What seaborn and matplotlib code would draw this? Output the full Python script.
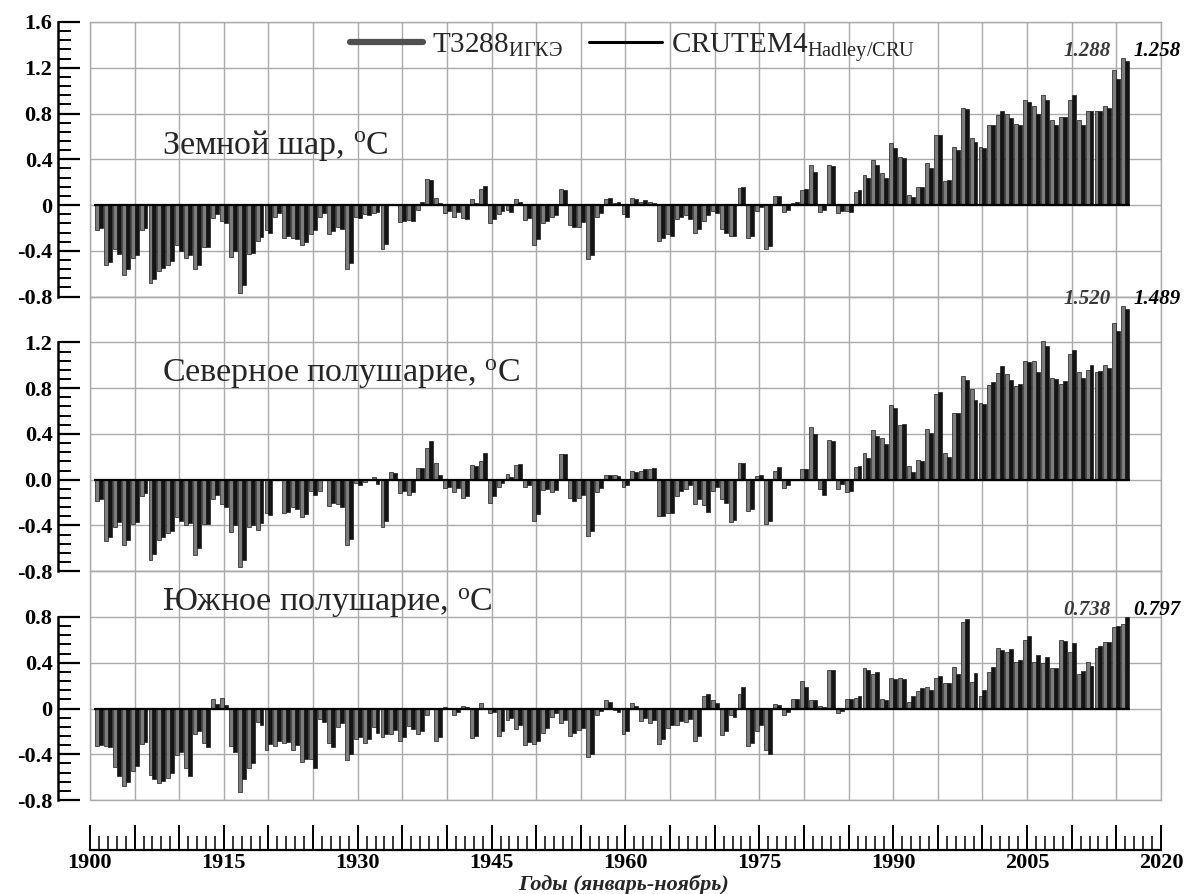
import numpy as np
import pandas as pd
import seaborn as sns
import matplotlib.pyplot as plt
from matplotlib.lines import Line2D
from matplotlib.ticker import MultipleLocator, FixedLocator, FuncFormatter

years = list(range(1901, 2017))

# Земной шар
globe_t3288 = [
    -0.22, -0.52, -0.38, -0.61, -0.46, -0.22, -0.68, -0.58, -0.52, -0.35,
    -0.46, -0.56, -0.37, -0.11, -0.14, -0.45, -0.77, -0.43, -0.31, -0.22,
    -0.10, -0.29, -0.29, -0.35, -0.25, -0.10, -0.25, -0.19, -0.56, -0.10,
    -0.08, -0.07, -0.38, 0.01, -0.15, -0.13, -0.04, 0.23, 0.06, -0.07,
    -0.10, -0.11, 0.05, 0.14, -0.16, -0.08, -0.04, 0.05, -0.13, -0.35,
    -0.16, -0.10, 0.14, -0.17, -0.19, -0.47, -0.10, 0.05, 0.02, -0.08,
    0.06, 0.03, 0.03, -0.31, -0.25, -0.12, -0.09, -0.24, -0.14, -0.05,
    -0.21, -0.27, 0.15, -0.29, -0.05, -0.38, 0.08, -0.06, 0.02, 0.13,
    0.35, -0.06, 0.35, -0.07, -0.05, 0.11, 0.26, 0.39, 0.28, 0.54,
    0.42, 0.09, 0.16, 0.37, 0.61, 0.21, 0.51, 0.85, 0.59, 0.51,
    0.70, 0.79, 0.80, 0.71, 0.92, 0.87, 0.96, 0.74, 0.77, 0.92,
    0.74, 0.82, 0.82, 0.87, 1.18, 1.288,
]
globe_crutem = [
    -0.20, -0.50, -0.43, -0.56, -0.44, -0.20, -0.65, -0.55, -0.49, -0.40,
    -0.44, -0.52, -0.37, -0.08, -0.16, -0.40, -0.70, -0.42, -0.28, -0.24,
    -0.07, -0.27, -0.30, -0.32, -0.22, -0.07, -0.23, -0.21, -0.51, -0.11,
    -0.09, -0.06, -0.34, 0.00, -0.14, -0.14, 0.03, 0.22, 0.02, -0.05,
    -0.06, -0.12, 0.02, 0.17, -0.12, -0.05, -0.06, 0.03, -0.11, -0.30,
    -0.14, -0.09, 0.13, -0.19, -0.15, -0.44, -0.07, 0.06, 0.03, -0.10,
    0.05, 0.04, 0.02, -0.29, -0.27, -0.10, -0.12, -0.21, -0.09, -0.07,
    -0.24, -0.27, 0.16, -0.27, -0.02, -0.36, 0.08, -0.04, 0.03, 0.14,
    0.29, -0.04, 0.34, -0.05, -0.06, 0.13, 0.24, 0.35, 0.24, 0.50,
    0.41, 0.07, 0.16, 0.32, 0.61, 0.22, 0.48, 0.84, 0.55, 0.50,
    0.70, 0.82, 0.76, 0.70, 0.90, 0.80, 0.92, 0.70, 0.77, 0.96,
    0.70, 0.82, 0.82, 0.85, 1.10, 1.258,
]

# Северное полушарие
north_t3288 = [
    -0.19, -0.54, -0.41, -0.57, -0.39, -0.14, -0.70, -0.53, -0.47, -0.33,
    -0.40, -0.66, -0.39, -0.17, -0.21, -0.46, -0.76, -0.41, -0.44, -0.29,
    0.01, -0.29, -0.24, -0.33, -0.10, -0.10, -0.23, -0.21, -0.57, -0.03,
    -0.02, 0.02, -0.41, 0.07, -0.12, -0.13, 0.10, 0.28, 0.15, -0.07,
    -0.11, -0.16, 0.13, 0.16, -0.20, -0.06, 0.05, 0.13, -0.06, -0.36,
    -0.09, -0.11, 0.22, -0.16, -0.16, -0.49, -0.11, 0.04, 0.04, -0.06,
    0.08, 0.08, 0.09, -0.32, -0.29, -0.14, -0.08, -0.21, -0.22, -0.10,
    -0.17, -0.37, 0.15, -0.27, 0.03, -0.39, 0.08, -0.07, 0.01, 0.09,
    0.46, -0.08, 0.35, -0.08, -0.11, 0.11, 0.23, 0.43, 0.36, 0.65,
    0.48, 0.12, 0.17, 0.44, 0.75, 0.23, 0.58, 0.91, 0.79, 0.67,
    0.83, 0.93, 0.92, 0.82, 1.04, 1.04, 1.21, 0.89, 0.84, 1.10,
    0.94, 0.96, 0.94, 1.00, 1.37, 1.520,
]
north_crutem = [
    -0.17, -0.50, -0.37, -0.53, -0.37, -0.12, -0.65, -0.50, -0.45, -0.36,
    -0.38, -0.60, -0.39, -0.13, -0.24, -0.40, -0.70, -0.40, -0.38, -0.31,
    0.00, -0.28, -0.26, -0.30, -0.13, 0.01, -0.20, -0.24, -0.52, -0.05,
    0.00, -0.04, -0.36, 0.06, -0.10, -0.11, 0.10, 0.34, 0.04, -0.06,
    -0.07, -0.14, 0.12, 0.23, -0.14, -0.03, 0.02, 0.14, -0.05, -0.30,
    -0.08, -0.09, 0.22, -0.19, -0.13, -0.45, -0.07, 0.04, 0.03, -0.05,
    0.07, 0.09, 0.10, -0.32, -0.29, -0.10, -0.05, -0.17, -0.28, -0.06,
    -0.20, -0.35, 0.15, -0.26, 0.04, -0.36, 0.11, -0.05, 0.00, 0.09,
    0.40, -0.13, 0.34, -0.04, -0.10, 0.12, 0.19, 0.38, 0.31, 0.63,
    0.49, 0.07, 0.16, 0.41, 0.77, 0.20, 0.58, 0.87, 0.70, 0.66,
    0.85, 0.99, 0.87, 0.84, 1.03, 0.94, 1.17, 0.88, 0.86, 1.13,
    0.89, 1.00, 0.95, 0.98, 1.30, 1.489,
]

# Южное полушарие
south_t3288 = [
    -0.33, -0.33, -0.51, -0.68, -0.55, -0.31, -0.58, -0.65, -0.61, -0.41,
    -0.52, -0.22, -0.30, 0.08, 0.09, -0.33, -0.73, -0.52, -0.12, -0.36,
    -0.33, -0.30, -0.36, -0.47, -0.44, -0.09, -0.30, -0.16, -0.45, -0.27,
    -0.30, -0.16, -0.25, -0.22, -0.28, -0.15, -0.22, -0.06, -0.28, 0.01,
    -0.06, 0.02, -0.26, 0.05, -0.04, -0.24, -0.10, -0.18, -0.32, -0.31,
    -0.21, -0.07, -0.13, -0.24, -0.19, -0.42, -0.06, 0.07, -0.01, -0.22,
    0.05, -0.11, -0.13, -0.31, -0.17, -0.14, -0.12, -0.28, 0.11, 0.07,
    -0.23, -0.06, 0.13, -0.33, -0.20, -0.36, 0.04, -0.06, 0.08, 0.24,
    0.07, 0.02, 0.34, -0.04, 0.08, 0.09, 0.35, 0.30, 0.08, 0.27,
    0.27, 0.06, 0.15, 0.19, 0.27, 0.22, 0.36, 0.76, 0.23, 0.11,
    0.32, 0.53, 0.49, 0.41, 0.60, 0.41, 0.40, 0.35, 0.60, 0.49,
    0.30, 0.41, 0.53, 0.58, 0.71, 0.738,
]
south_crutem = [
    -0.32, -0.34, -0.59, -0.64, -0.50, -0.29, -0.62, -0.63, -0.56, -0.38,
    -0.59, -0.20, -0.34, 0.04, 0.03, -0.38, -0.62, -0.48, -0.14, -0.31,
    -0.28, -0.29, -0.32, -0.44, -0.52, -0.12, -0.34, -0.13, -0.40, -0.25,
    -0.27, -0.21, -0.22, -0.19, -0.25, -0.18, -0.20, 0.00, -0.25, 0.00,
    -0.03, 0.01, -0.24, 0.00, -0.03, -0.20, -0.08, -0.14, -0.29, -0.28,
    -0.17, -0.04, -0.10, -0.21, -0.17, -0.40, -0.02, 0.06, -0.03, -0.20,
    0.02, -0.08, -0.10, -0.27, -0.14, -0.11, -0.09, -0.24, 0.13, 0.05,
    -0.20, -0.07, 0.19, -0.30, -0.14, -0.40, 0.03, -0.03, 0.08, 0.19,
    0.07, 0.01, 0.34, -0.02, 0.08, 0.11, 0.34, 0.32, 0.07, 0.26,
    0.26, 0.11, 0.18, 0.16, 0.28, 0.22, 0.30, 0.78, 0.31, 0.16,
    0.36, 0.51, 0.52, 0.42, 0.63, 0.47, 0.45, 0.35, 0.59, 0.57,
    0.33, 0.37, 0.55, 0.58, 0.72, 0.797,
]

series_names = ['T3288', 'CRUTEM4']
legend_labels = ['T3288$_{\\mathrm{ИГКЭ}}$', 'CRUTEM4$_{\\mathrm{Hadley/CRU}}$']
panel_titles = ['Земной шар, $^{\\mathrm{o}}$C',
                'Северное полушарие, $^{\\mathrm{o}}$C',
                'Южное полушарие, $^{\\mathrm{o}}$C']

sns.set_theme(style='white')
plt.rcParams['font.family'] = ['Liberation Serif', 'DejaVu Serif']
plt.rcParams['font.weight'] = 'bold'
plt.rcParams['mathtext.fontset'] = 'custom'
plt.rcParams['mathtext.rm'] = 'Liberation Serif:weight=normal'
plt.rcParams['mathtext.it'] = 'Liberation Serif:italic:weight=normal'
plt.rcParams['mathtext.bf'] = 'Liberation Serif:weight=bold'

palette = {'T3288': '#7c7c7c', 'CRUTEM4': '#141414'}
grid_color = '#aaaaaa'

panels = [
    dict(title=panel_titles[0], t=globe_t3288, c=globe_crutem, ylim=(-0.8, 1.6),
         ticks=[-0.8, -0.4, 0, 0.4, 0.8, 1.2, 1.6],
         labels=['-0.8', '-0.4', '0', '0.4', '0.8', '1.2', '1.6'], title_y=0.52),
    dict(title=panel_titles[1], t=north_t3288, c=north_crutem, ylim=(-0.8, 1.6),
         ticks=[-0.8, -0.4, 0, 0.4, 0.8, 1.2],
         labels=['-0.8', '-0.4', '0.0', '0.4', '0.8', '1.2'], title_y=0.92),
    dict(title=panel_titles[2], t=south_t3288, c=south_crutem, ylim=(-0.8, 1.2),
         ticks=[-0.8, -0.4, 0, 0.4, 0.8],
         labels=['-0.8', '-0.4', '0', '0.4', '0.8'], title_y=0.92),
]

fig = plt.figure(figsize=(11.9, 8.94), dpi=100)
gs = fig.add_gridspec(3, 1, height_ratios=[6, 6, 5], left=0.0756, right=0.9756,
                      top=0.9754, bottom=0.1051, hspace=0)

for i, p in enumerate(panels):
    ax = fig.add_subplot(gs[i])
    ax.patch.set_visible(False)
    n = len(years)
    df = pd.DataFrame({
        'year': years * 2,
        'value': p['t'] + p['c'],
        'source': [series_names[0]] * n + [series_names[1]] * n,
    })
    sns.barplot(data=df, x='year', y='value', hue='source', hue_order=series_names,
                palette=palette, native_scale=True, width=0.88, dodge=True,
                errorbar=None, legend=False, saturation=1,
                edgecolor='#1c1c1c', linewidth=0.5, ax=ax)
    ax.hlines(0, years[0] - 0.5, years[-1] + 0.5, color='black', lw=1.6, zorder=4)

    ax.set_xlim(1900, 2020)
    ax.set_ylim(*p['ylim'])
    ax.set_xlabel('')
    ax.set_ylabel('')

    ax.xaxis.set_major_locator(MultipleLocator(5))
    ax.xaxis.set_minor_locator(MultipleLocator(1))
    ax.yaxis.set_major_locator(FixedLocator(p['ticks']))
    ax.set_yticklabels(p['labels'])
    minor = np.round(np.arange(p['ticks'][0], p['ticks'][-1] + 0.001, 0.08), 2)
    ax.yaxis.set_minor_locator(FixedLocator(minor))

    ax.grid(True, which='major', color=grid_color, lw=1.0)
    ax.set_axisbelow(True)

    # серая рамка поля графика
    for s in ['top', 'right', 'bottom']:
        ax.spines[s].set_visible(True)
        ax.spines[s].set_color(grid_color)
        ax.spines[s].set_linewidth(1.0)
    ax.axvline(ax.get_xlim()[0], color=grid_color, lw=1.0, clip_on=False, zorder=0)

    ax.spines['left'].set_position(('outward', 23))
    ax.spines['left'].set_bounds(p['ticks'][0], p['ticks'][-1])
    ax.spines['left'].set_color('black')
    ax.spines['left'].set_linewidth(1.8)

    ax.tick_params(axis='y', which='major', direction='in', left=True, length=16,
                   width=1.6, colors='black', labelsize=16, pad=4)
    ax.tick_params(axis='y', which='minor', direction='in', left=True, length=9.5,
                   width=1.4, colors='black')

    ax.text(1908.1, p['title_y'], p['title'], fontsize=24.5, fontweight='normal',
            ha='left', va='center')

    # подписи значений 2016 г.
    top = max(p['t'][-1], p['c'][-1]) + 0.06
    ax.text(years[-1] - 1.6, top, f"{p['t'][-1]:.3f}", ha='right', va='center',
            fontsize=15, fontstyle='italic', fontweight='bold', color='#3a3a3a',
            clip_on=False)
    ax.text(years[-1] + 0.9, top, f"{p['c'][-1]:.3f}", ha='left', va='center',
            fontsize=15, fontstyle='italic', fontweight='bold', color='black',
            clip_on=False)

    if i < 2:
        ax.tick_params(axis='x', which='both', bottom=False, labelbottom=False)
    else:
        ax.axhline(ax.get_ylim()[0], color=grid_color, lw=1.0, clip_on=False, zorder=0)
        ax.spines['bottom'].set_position(('outward', 36))
        ax.spines['bottom'].set_bounds(1900, 2020)
        ax.spines['bottom'].set_color('black')
        ax.spines['bottom'].set_linewidth(1.6)
        ax.xaxis.set_major_formatter(FuncFormatter(
            lambda v, pos: f'{int(round(v))}' if int(round(v - 1900)) % 15 == 0 else ''))
        ax.tick_params(axis='x', which='major', direction='in', bottom=True,
                       length=18, width=1.4, colors='black', labelsize=16, pad=2)
        ax.tick_params(axis='x', which='minor', direction='in', bottom=True,
                       length=10, width=1.1, colors='black')

handles = [Line2D([], [], color='#505050', lw=4.5),
           Line2D([], [], color='black', lw=2.2)]
fig.legend(handles, legend_labels, loc='center left', bbox_to_anchor=(0.272, 0.947),
           ncol=2, frameon=False, handlelength=2.5, handletextpad=0.3,
           columnspacing=0.9, prop={'size': 21, 'weight': 'normal'})

fig.text(0.524, 1 - 885 / 894, 'Годы (январь-ноябрь)', ha='center', va='center',
         fontsize=16, fontstyle='italic', fontweight='bold')

plt.savefig('out.png', dpi=100)
